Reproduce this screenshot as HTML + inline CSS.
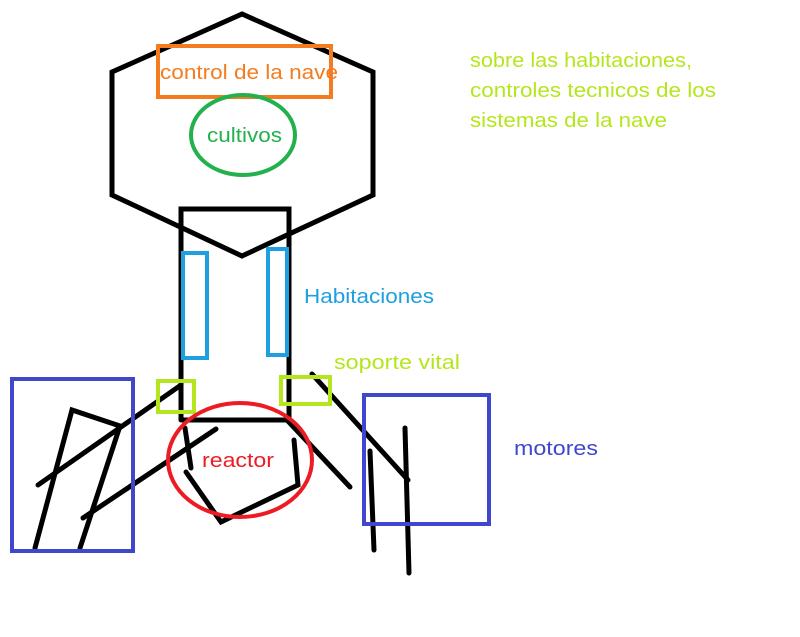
<!DOCTYPE html>
<html><head><meta charset="utf-8"><style>html,body{margin:0;padding:0;background:#fff}svg{display:block}text{font-family:"Liberation Sans",sans-serif;font-size:20px}</style></head>
<body>
<svg width="800" height="637" viewBox="0 0 800 637" xmlns="http://www.w3.org/2000/svg">
<rect width="800" height="637" fill="#fff"/>
<g fill="none" stroke="#000" stroke-width="5" stroke-linecap="round" stroke-linejoin="miter">
<polygon points="242,14 112,72 112,195 242,256 373,195 373,72"/>
<polyline points="181,420 181,209 289,209 289,420 181,420"/>
<line x1="38" y1="485" x2="181" y2="385"/>
<polyline points="120,426 72,410 35,548"/>
<line x1="120" y1="426" x2="80" y2="548"/>
<line x1="83" y1="518" x2="216" y2="429"/>
<line x1="185" y1="428" x2="191" y2="468"/>
<polyline points="186,472 221,522 298,485 294,440"/>
<line x1="287" y1="420" x2="350" y2="487"/>
<line x1="312" y1="374" x2="408" y2="480"/>
<line x1="370" y1="451" x2="374" y2="550"/>
<line x1="405" y1="428" x2="409" y2="573"/>
</g>
<g fill="none" stroke-width="4">
<rect x="158" y="46" width="173" height="51" stroke="#f47c20"/>
<ellipse cx="243" cy="135" rx="52" ry="40" stroke="#22b14c"/>
<rect x="183" y="253" width="24" height="105" stroke="#1ea0e0"/>
<rect x="268" y="249" width="19" height="106" stroke="#1ea0e0"/>
<rect x="158" y="381" width="36" height="31" stroke="#b5e61d"/>
<rect x="281" y="377" width="49" height="27" stroke="#b5e61d"/>
<ellipse cx="240" cy="460" rx="72" ry="57" stroke="#ed1c24"/>
<rect x="12" y="379" width="121" height="172" stroke="#3f48cc"/>
<rect x="364" y="395" width="125" height="129" stroke="#3f48cc"/>
</g>
<text x="160" y="79" fill="#f47c20" textLength="178" lengthAdjust="spacingAndGlyphs">control de la nave</text>
<text x="207" y="142" fill="#22b14c" textLength="75" lengthAdjust="spacingAndGlyphs">cultivos</text>
<text x="304" y="303" fill="#1ea0e0" textLength="130" lengthAdjust="spacingAndGlyphs">Habitaciones</text>
<text x="334" y="369" fill="#b5e61d" textLength="126" lengthAdjust="spacingAndGlyphs">soporte vital</text>
<text x="202" y="467" fill="#ed1c24" textLength="72" lengthAdjust="spacingAndGlyphs">reactor</text>
<text x="514" y="455" fill="#3f48cc" textLength="84" lengthAdjust="spacingAndGlyphs">motores</text>
<text x="470" y="67" fill="#b5e61d" textLength="222" lengthAdjust="spacingAndGlyphs">sobre las habitaciones,</text>
<text x="470" y="97" fill="#b5e61d" textLength="246" lengthAdjust="spacingAndGlyphs">controles tecnicos de los</text>
<text x="470" y="127" fill="#b5e61d" textLength="197" lengthAdjust="spacingAndGlyphs">sistemas de la nave</text>
</svg>
</body></html>
